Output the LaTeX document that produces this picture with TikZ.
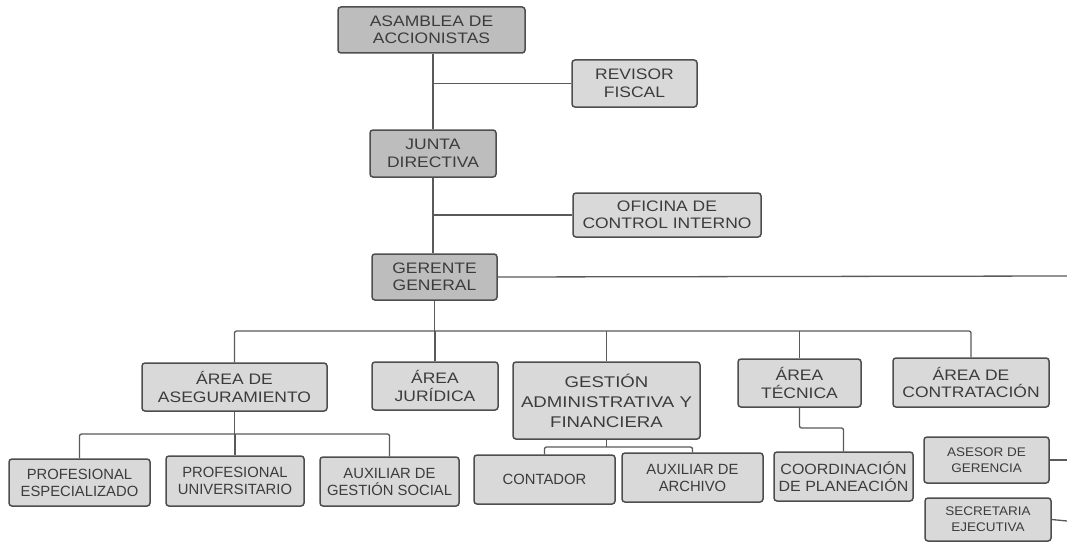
\documentclass[tikz,border=0pt]{standalone}
\usepackage{fontspec}
\setmainfont{Liberation Sans}
\newfontfamily\wsans[FakeStretch=1.15]{Liberation Sans}
\newfontfamily\gsans[FakeStretch=1.2]{Liberation Sans}
\newfontfamily\nsans{Liberation Sans}
\newfontfamily\msans[FakeStretch=1.08]{Liberation Sans}
\definecolor{topfill}{HTML}{BDBDBD}
\definecolor{boxfill}{HTML}{D9D9D9}
\definecolor{bordercol}{HTML}{4E4E4E}
\definecolor{textcol}{HTML}{3C3C3C}
\definecolor{linecol}{HTML}{5A5A5A}
\tikzset{
  box/.style={draw=bordercol, line width=1.5pt, rounded corners=3pt, fill=boxfill,
    text=textcol, align=center, inner sep=0pt,
    font=\wsans\fontsize{15.2}{17.5}\selectfont},
  topbox/.style={box, fill=topfill},
  lowbox/.style={box, font=\nsans\fontsize{14.8}{17}\selectfont},
  midbox/.style={box, font=\msans\fontsize{14.8}{17}\selectfont},
  smallbox/.style={box, font=\msans\fontsize{12.5}{16}\selectfont},
  conn/.style={draw=linecol, line width=1.3pt, rounded corners=2pt}
}
\begin{document}
\begin{tikzpicture}[x=1pt,y=-1pt]
\useasboundingbox[fill=white] (0,0) rectangle (1067,543);
% top chain
\node[topbox, minimum width=187pt, minimum height=46pt] (asamblea) at (431.5,30) {ASAMBLEA DE\\ACCIONISTAS};
\node[box, minimum width=125pt, minimum height=47pt] (revisor) at (634.5,83.5) {REVISOR\\FISCAL};
\node[topbox, minimum width=126pt, minimum height=47pt] (junta) at (433,153.5) {JUNTA\\DIRECTIVA};
\node[box, minimum width=188pt, minimum height=44pt] (oficina) at (667,215) {OFICINA DE\\CONTROL INTERNO};
\node[topbox, minimum width=125pt, minimum height=46pt] (gerente) at (434.5,277) {GERENTE\\GENERAL};
% areas
\node[box, minimum width=185pt, minimum height=48pt] (aseg) at (234.5,387) {ÁREA DE\\ASEGURAMIENTO};
\node[box, minimum width=126pt, minimum height=48pt] (juridica) at (435,386) {ÁREA\\JURÍDICA};
\node[box, minimum width=187pt, minimum height=77pt, font=\gsans\fontsize{15.5}{20}\selectfont] (gestion) at (606.5,400.5) {GESTIÓN\\ADMINISTRATIVA Y\\FINANCIERA};
\node[box, minimum width=123pt, minimum height=48pt] (tecnica) at (799.5,383) {ÁREA\\TÉCNICA};
\node[box, minimum width=156pt, minimum height=49pt] (contratacion) at (971,382.5) {ÁREA DE\\CONTRATACIÓN};
% bottom row
\node[lowbox, minimum width=141pt, minimum height=47pt] (profesp) at (79.5,482.5) {PROFESIONAL\\ESPECIALIZADO};
\node[lowbox, minimum width=138pt, minimum height=50pt] (profuniv) at (235,481) {PROFESIONAL\\UNIVERSITARIO};
\node[lowbox, minimum width=139pt, minimum height=49pt] (auxgest) at (389.5,481.5) {AUXILIAR DE\\GESTIÓN SOCIAL};
\node[lowbox, minimum width=141pt, minimum height=49pt] (contador) at (544.5,479.5) {CONTADOR};
\node[lowbox, minimum width=141pt, minimum height=49pt] (auxarch) at (692.5,477.5) {AUXILIAR DE\\ARCHIVO};
\node[midbox, minimum width=139pt, minimum height=49pt] (coord) at (843.5,476.5) {COORDINACIÓN\\DE PLANEACIÓN};
\node[smallbox, minimum width=125pt, minimum height=46pt] (asesor) at (986.5,460) {ASESOR DE\\GERENCIA};
\node[smallbox, minimum width=126pt, minimum height=43pt] (secretaria) at (988,519.5) {SECRETARIA\\EJECUTIVA};
% free ends and bus levels
\coordinate (gerR) at (1067,276);
\coordinate (asesorR) at (1067,460);
\coordinate (secR) at (1067,521);
\coordinate (bus) at (0,331);
\coordinate (busA) at (0,434);
\coordinate (busG) at (0,447);
\coordinate (busT) at (0,428);
% connectors
\draw[conn] (junta.north) -- (junta.north |- asamblea.south);
\draw[conn] (revisor.west) -- (revisor.west -| junta.north);
\draw[conn] (junta.south) -- (junta.south |- gerente.north);
\draw[conn] (oficina.west) -- (oficina.west -| junta.south);
\draw[conn] (gerente.east) -- (gerR);
\draw[conn] (gerente.south) -- (gerente.south |- bus);
\draw[conn] (aseg.north) |- (contratacion.north |- bus) -- (contratacion.north);
\draw[conn] (juridica.north) -- (juridica.north |- bus);
\draw[conn] (gestion.north) -- (gestion.north |- bus);
\draw[conn] (tecnica.north) -- (tecnica.north |- bus);
\draw[conn] (aseg.south) -- (aseg.south |- busA);
\draw[conn] (profesp.north) |- (auxgest.north |- busA) -- (auxgest.north);
\draw[conn] (profuniv.north) -- (profuniv.north |- busA);
\draw[conn] (gestion.south) -- (gestion.south |- busG);
\draw[conn] (contador.north) |- (auxarch.north |- busG) -- (auxarch.north);
\draw[conn] (tecnica.south) |- (coord.north |- busT) -- (coord.north);
\draw[conn] (asesor.east) -- (asesorR);
\draw[conn] (secretaria.east) -- (secR);
\end{tikzpicture}
\end{document}
